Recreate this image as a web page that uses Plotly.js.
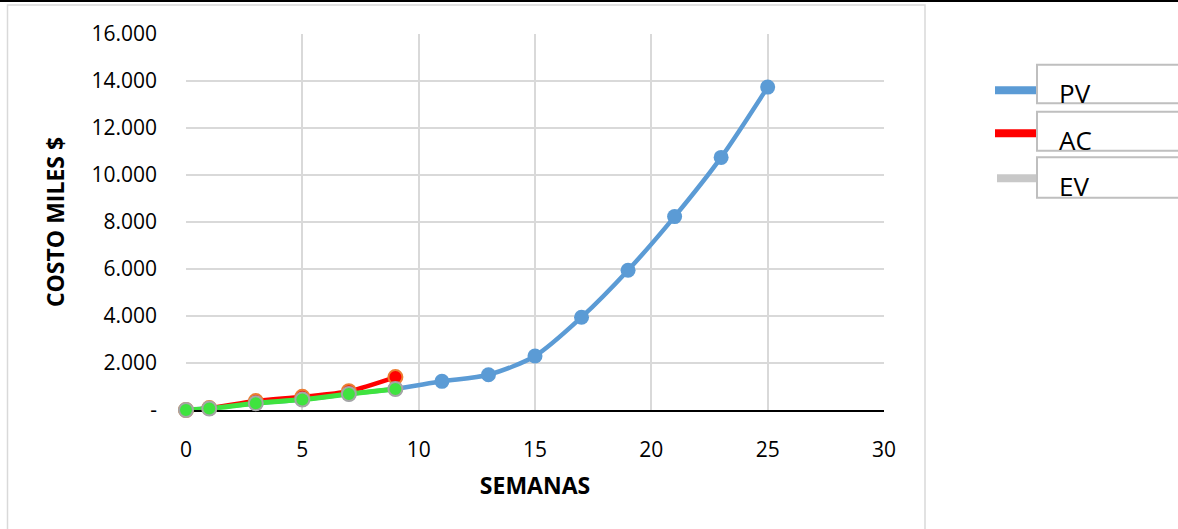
<!DOCTYPE html>
<html>
<head>
<meta charset="utf-8">
<script src="https://cdn.plot.ly/plotly-3.0.1.min.js"></script>
<style>
  html, body { margin: 0; padding: 0; background: #ffffff; }
  #chart { width: 1178px; height: 529px; }
</style>
</head>
<body>
<div id="chart"></div>
<script>
// Weekly cost curves (thousands of $)
const weeksPV = [0, 1, 3, 5, 7, 9, 11, 13, 15, 17, 19, 21, 23, 25];
const valuesPV = [0, 70, 285, 450, 680, 900, 1220, 1500, 2300, 3950, 5950, 8230, 10750, 13740];

const weeksAC = [0, 1, 3, 5, 7, 9];
const valuesAC = [0, 80, 380, 560, 800, 1400];

const weeksEV = [0, 1, 3, 5, 7, 9];
const valuesEV = [0, 65, 285, 445, 680, 895];

const yTickVals = [0, 2000, 4000, 6000, 8000, 10000, 12000, 14000, 16000];
const yTickText = ["-", "2.000", "4.000", "6.000", "8.000", "10.000", "12.000", "14.000", "16.000"];
const xTickVals = [0, 5, 10, 15, 20, 25, 30];

const legendNames = ["PV", "AC", "EV"];
const legendColors = ["#5B9BD5", "#FF0000", "#C8C8C8"];

// Plot area geometry in page pixels, used to place the frame and legend
const PLOT_L = 186, PLOT_R = 884, PLOT_T = 34, PLOT_B = 410;
const px = x => (x - PLOT_L) / (PLOT_R - PLOT_L);
const py = y => (PLOT_B - y) / (PLOT_B - PLOT_T);

const FONT = "Open Sans, Liberation Sans, sans-serif";

const traces = [
  {
    x: weeksPV, y: valuesPV, name: "PV", type: "scatter", mode: "lines+markers",
    line: { color: "#5B9BD5", width: 4.5, shape: "spline", smoothing: 0.8 },
    marker: { color: "#5B9BD5", size: 15, line: { color: "#5B9BD5", width: 0 } },
    showlegend: false, cliponaxis: false
  },
  {
    x: weeksAC, y: valuesAC, name: "AC", type: "scatter", mode: "lines+markers",
    line: { color: "#FF0000", width: 4.5, shape: "spline", smoothing: 0.8 },
    marker: { color: "#FF0000", size: 14, line: { color: "#ED7D31", width: 2 } },
    showlegend: false, cliponaxis: false
  },
  {
    x: weeksEV, y: valuesEV, name: "EV", type: "scatter", mode: "lines+markers",
    line: { color: "#3FE33F", width: 5, shape: "spline", smoothing: 0.8 },
    marker: { color: "#3FE33F", size: 14, line: { color: "#A5A5A5", width: 2 } },
    showlegend: false, cliponaxis: false
  }
];

const shapes = [
  // outer chart frame
  { type: "rect", xref: "paper", yref: "paper", layer: "below",
    x0: px(7.5), x1: px(925), y0: py(5), y1: py(540),
    line: { color: "#D9D9D9", width: 1.5 }, fillcolor: "rgba(0,0,0,0)" },
  // rule along the top edge of the page
  { type: "line", xref: "paper", yref: "paper",
    x0: px(0), x1: px(1178), y0: py(1), y1: py(1),
    line: { color: "#000000", width: 2 } }
];

const annotations = [];
const boxTops = [64.7, 111.7, 157.3];
const boxBottoms = [103.3, 150.7, 197.7];
const sampleY = [90.3, 133.3, 178.3];
const sampleX0 = [995, 995, 997];
const textCapMid = [93.3, 140, 186.3];

legendNames.forEach((name, i) => {
  shapes.push({
    type: "rect", xref: "paper", yref: "paper",
    x0: px(1037), x1: px(1195), y0: py(boxBottoms[i]), y1: py(boxTops[i]),
    line: { color: "#BFBFBF", width: 2 }, fillcolor: "#FFFFFF"
  });
  shapes.push({
    type: "line", xref: "paper", yref: "paper",
    x0: px(sampleX0[i]), x1: px(1036), y0: py(sampleY[i]), y1: py(sampleY[i]),
    line: { color: legendColors[i], width: 8 }
  });
  annotations.push({
    text: name, xref: "paper", yref: "paper", showarrow: false,
    x: px(1057), y: py(textCapMid[i]), xanchor: "left", yanchor: "middle",
    font: { family: FONT, size: 26, color: "#000000" }
  });
});

const layout = {
  width: 1178, height: 529,
  margin: { l: PLOT_L, r: 1178 - PLOT_R, t: PLOT_T, b: 529 - PLOT_B, pad: 0 },
  paper_bgcolor: "#FFFFFF", plot_bgcolor: "#FFFFFF",
  font: { family: FONT, color: "#000000" },
  showlegend: false,
  xaxis: {
    range: [0, 30], tickvals: xTickVals, ticks: "", ticklabelstandoff: 20,
    tickfont: { family: FONT, size: 21, color: "#000000" },
    showgrid: true, gridcolor: "#D9D9D9", gridwidth: 2,
    zeroline: false, showline: true, linecolor: "#000000", linewidth: 2,
    layer: "below traces", fixedrange: true,
    title: { text: "<b>SEMANAS</b>", font: { family: FONT, size: 23, color: "#000000" }, standoff: 16 }
  },
  yaxis: {
    range: [0, 16000], tickvals: yTickVals, ticktext: yTickText, ticks: "", ticklabelstandoff: 28,
    tickfont: { family: FONT, size: 21, color: "#000000" },
    showgrid: true, gridcolor: "#D9D9D9", gridwidth: 2,
    zeroline: false, showline: false,
    layer: "below traces", fixedrange: true,
    title: { text: "<b>COSTO MILES $</b>", font: { family: FONT, size: 23, color: "#000000" }, standoff: 20 }
  },
  shapes: shapes,
  annotations: annotations
};

Plotly.newPlot("chart", traces, layout, { staticPlot: true, displayModeBar: false });
</script>
</body>
</html>
